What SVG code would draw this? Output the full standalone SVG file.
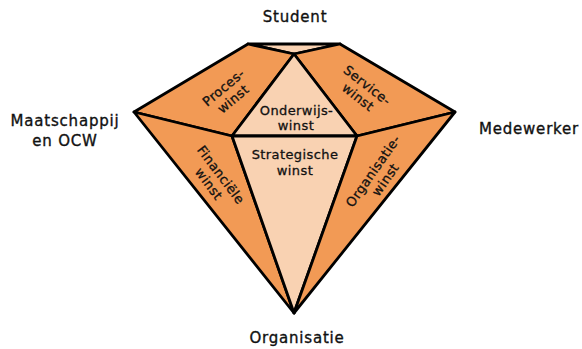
<svg xmlns="http://www.w3.org/2000/svg" width="582" height="349" viewBox="0 0 582 349">
<style>
.dark{fill:#F29A55;stroke:#000;stroke-width:2.8;stroke-linejoin:round}
.light{fill:#F9D2B2;stroke:#000;stroke-width:2.8;stroke-linejoin:round}
.lbl{font-family:"DejaVu Sans","Liberation Sans",sans-serif;font-size:15px;fill:#111;stroke:#111;stroke-width:0.35px;text-anchor:middle;letter-spacing:0.8px}
.in{font-family:"DejaVu Sans","Liberation Sans",sans-serif;font-size:13px;fill:#111;stroke:#111;stroke-width:0.3px;text-anchor:middle;letter-spacing:0.4px}
</style>
<rect width="582" height="349" fill="#fff"/>
<g id="diamond">
<g id="top"><polygon class="light" points="248,44 340,44 294,54"/></g>
<g id="proces"><polygon class="dark" points="248,44 294,54 232,136 134,112"/>
<text class="in" transform="translate(229,94) rotate(-40)"><tspan x="0" y="-4">Proces-</tspan><tspan x="0" y="11">winst</tspan></text></g>
<g id="service"><polygon class="dark" points="340,44 455,112 357,136 294,54"/>
<text class="in" transform="translate(362,92) rotate(38)"><tspan x="0" y="-4">Service-</tspan><tspan x="0" y="11">winst</tspan></text></g>
<g id="onderwijs"><polygon class="light" points="294,54 357,136 232,136"/>
<text class="in"><tspan x="296.5" y="115">Onderwijs-</tspan><tspan x="296" y="130">winst</tspan></text></g>
<g id="financieel"><polygon class="dark" points="134,112 232,136 294,313"/>
<text class="in" transform="translate(214,180) rotate(53)"><tspan x="0" y="-4">Financiële</tspan><tspan x="0" y="11">winst</tspan></text></g>
<g id="strategisch"><polygon class="light" points="232,136 357,136 294,313"/>
<text class="in"><tspan x="295" y="159">Strategische</tspan><tspan x="295" y="175">winst</tspan></text></g>
<g id="organisatiewinst"><polygon class="dark" points="357,136 455,112 294,313"/>
<text class="in" transform="translate(380,176) rotate(-55)"><tspan x="0" y="-4">Organisatie-</tspan><tspan x="0" y="11">winst</tspan></text></g>
</g>
<g id="student"><text class="lbl" x="295" y="22">Student</text></g>
<g id="maatschappij"><text class="lbl"><tspan x="65" y="126">Maatschappij</tspan><tspan x="65" y="146">en OCW</tspan></text></g>
<g id="medewerker"><text class="lbl" x="529" y="134">Medewerker</text></g>
<g id="organisatie"><text class="lbl" x="297" y="343">Organisatie</text></g>
<g id="connectors"></g>
</svg>
